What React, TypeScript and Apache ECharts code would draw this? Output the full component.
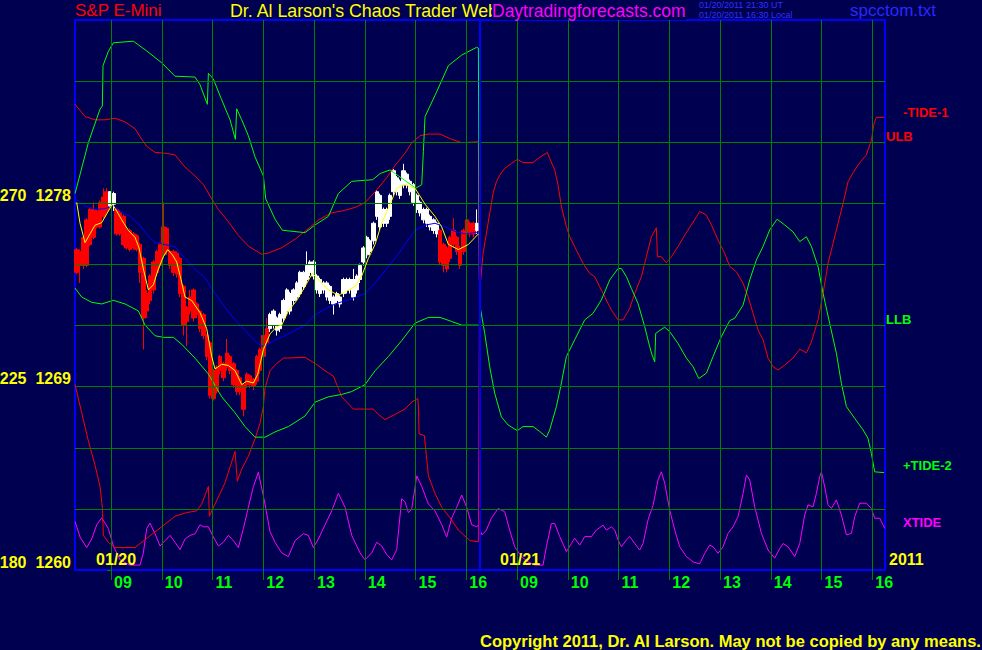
import React, { useEffect, useRef } from 'react';
import * as echarts from 'echarts';

type Pt = [number, number];

// ---- scales ----
const TIDE_MIN = 180;
const TIDE_MAX = 315;
const TIDE_STEP = 15;
const TIDE_LABELED = [180, 225, 270];
const PRICE_MIN = 1260;
const PRICE_MAX = 1287;

// x = session hours counted from 09:00 on 01/20 (01/21 09:00 sits at 8)
const X_MIN = -0.71;
const X_MAX = 15.25;
const DAY_BREAK = 7.27;
const HOUR_TICKS = [0, 1, 2, 3, 4, 5, 6, 7, 8, 9, 10, 11, 12, 13, 14, 15];
const HOUR_LABELS = ['09', '10', '11', '12', '13', '14', '15', '16', '09', '10', '11', '12', '13', '14', '15', '16'];

// ---- tide / band lines (left 180..315 scale) ----
const tide2: Pt[] = [
  [-0.709, 272.4], [-0.447, 284.9], [-0.217, 293.1], [-0.171, 293.9], [-0.158, 303.8], [-0.053, 307.3],
  [0.046, 309.4], [0.44, 309.8], [0.703, 307.4], [0.998, 304.5], [1.261, 301.2], [1.655, 301.0],
  [1.754, 299.1], [1.898, 294.3], [1.918, 301.9], [2.016, 300.5], [2.181, 295.4], [2.345, 290.5],
  [2.45, 285.7], [2.476, 293.2], [2.575, 290.5], [2.706, 286.6], [2.837, 281.4], [3.002, 276.7],
  [3.048, 271.1], [3.232, 266.1], [3.376, 263.4], [3.823, 262.8], [4.02, 264.7], [4.282, 266.8],
  [4.479, 272.4], [4.742, 275.4], [5.156, 275.8], [5.3, 277.3], [5.498, 278.2], [5.793, 275.6],
  [6.003, 273.7], [6.122, 274.6], [6.154, 282.7], [6.187, 291.3], [6.384, 296.5], [6.647, 303.8],
  [6.91, 306.4], [7.205, 308.3], [7.238, 308.1], [7.25, 276.5], [7.262, 245.0],
  [7.284, 243.8], [7.363, 238.1], [7.461, 229.9], [7.56, 223.4], [7.691, 217.6], [7.823, 215.6],
  [8.006, 214.2], [8.118, 215.2], [8.315, 215.2], [8.447, 214.0], [8.578, 212.6], [8.644, 214.4],
  [8.775, 220.1], [8.86, 225.0], [8.972, 232.4], [9.136, 236.5], [9.333, 241.4], [9.497, 243.0],
  [9.662, 246.3], [9.826, 251.2], [9.99, 254.0], [10.056, 254.0], [10.155, 252.0], [10.253, 249.1],
  [10.384, 245.4], [10.516, 239.7], [10.614, 234.8], [10.66, 232.8], [10.713, 231.1], [10.732, 238.1],
  [10.778, 238.5], [10.91, 239.6], [11.008, 238.5], [11.172, 235.6], [11.337, 232.0], [11.468, 229.9],
  [11.58, 227.0], [11.731, 228.3], [11.862, 232.4], [12.026, 237.3], [12.19, 241.2], [12.289, 241.8],
  [12.453, 245.0], [12.585, 251.2], [12.716, 256.1], [12.847, 259.4], [12.979, 263.5], [13.123, 266.1],
  [13.274, 264.7], [13.438, 263.0], [13.57, 260.6], [13.701, 261.8], [13.8, 259.4], [13.931, 254.5],
  [14.03, 247.9], [14.161, 240.5], [14.292, 233.2], [14.391, 225.8], [14.49, 220.1], [14.654, 217.2],
  [14.818, 214.4], [14.916, 212.3], [14.982, 208.6], [15.047, 204.1], [15.231, 203.9],
];

const tide1: Pt[] = [
  [-0.709, 225.5], [-0.578, 218.6], [-0.447, 211.7], [-0.315, 205.7], [-0.217, 200.5], [-0.171, 195.4],
  [-0.151, 188.5], [-0.053, 186.8], [0.079, 185.5], [0.473, 185.5], [0.736, 188.1], [0.998, 190.6],
  [1.261, 193.2], [1.491, 194.1], [1.688, 194.5], [1.787, 196.2], [1.918, 200.5], [1.938, 193.2],
  [2.049, 196.2], [2.246, 201.4], [2.443, 209.1], [2.489, 201.8], [2.575, 204.8], [2.706, 207.9],
  [2.837, 212.2], [2.936, 216.0], [3.002, 220.3], [3.034, 224.6], [3.133, 228.9], [3.264, 230.7],
  [3.396, 232.0], [3.823, 232.2], [4.02, 230.7], [4.217, 228.9], [4.381, 227.6], [4.479, 224.6],
  [4.545, 222.5], [4.775, 219.5], [5.169, 219.5], [5.268, 218.2], [5.399, 216.9], [5.596, 218.2],
  [5.793, 219.5], [5.924, 221.2], [6.043, 222.1], [6.056, 220.3], [6.069, 213.4], [6.174, 213.0],
  [6.253, 203.1], [6.384, 198.8], [6.516, 195.4], [6.68, 192.8], [6.844, 189.8], [7.074, 187.2],
  [7.238, 186.9], [7.262, 251.2],
  [7.284, 251.2], [7.33, 257.7], [7.396, 262.6], [7.461, 267.5], [7.527, 272.4], [7.593, 275.3],
  [7.658, 276.9], [7.757, 278.6], [7.888, 279.8], [8.006, 280.8], [8.118, 280.0], [8.315, 280.0],
  [8.414, 281.0], [8.598, 282.5], [8.644, 281.0], [8.742, 278.2], [8.808, 274.5], [8.874, 269.2],
  [8.972, 264.3], [9.038, 261.8], [9.169, 258.5], [9.3, 255.3], [9.432, 252.8], [9.53, 252.0],
  [9.629, 249.5], [9.727, 247.1], [9.859, 243.8], [9.99, 241.4], [10.089, 241.4], [10.22, 244.2],
  [10.319, 247.9], [10.45, 252.0], [10.548, 256.9], [10.647, 261.8], [10.745, 264.0], [10.765, 256.9],
  [10.844, 256.9], [10.942, 255.4], [11.041, 256.9], [11.172, 259.4], [11.304, 262.2], [11.435, 264.7],
  [11.534, 266.7], [11.599, 268.0], [11.731, 267.1], [11.829, 264.7], [11.961, 261.0], [12.092, 257.7],
  [12.19, 254.5], [12.322, 253.2], [12.453, 250.4], [12.552, 247.1], [12.65, 243.0], [12.749, 238.9],
  [12.847, 236.5], [12.946, 232.0], [13.044, 229.9], [13.143, 229.1], [13.274, 230.3], [13.438, 232.0],
  [13.57, 234.2], [13.701, 233.3], [13.8, 236.0], [13.931, 241.4], [14.03, 247.9], [14.128, 255.3],
  [14.227, 260.2], [14.325, 265.1], [14.424, 270.0], [14.522, 275.3], [14.621, 277.5], [14.719, 279.4],
  [14.883, 281.9], [14.982, 285.5], [15.034, 289.6], [15.08, 291.1], [15.231, 291.1],
];

const ulb: Pt[] = [
  [-0.709, 294.3], [-0.512, 291.3], [-0.315, 290.5], [-0.118, 290.5], [0.079, 290.9], [0.276, 290.0],
  [0.473, 288.3], [0.604, 285.7], [0.703, 284.0], [0.867, 282.5], [1.064, 282.3], [1.261, 281.9],
  [1.458, 278.9], [1.655, 276.7], [1.819, 274.6], [1.984, 271.1], [2.115, 268.5], [2.312, 265.5],
  [2.509, 262.1], [2.706, 259.5], [2.969, 257.5], [3.1, 257.8], [3.363, 259.1], [3.626, 261.2],
  [3.888, 263.8], [4.085, 265.9], [4.348, 267.7], [4.545, 268.1], [4.808, 269.0], [5.005, 270.2],
  [5.202, 272.8], [5.432, 276.3], [5.596, 279.3], [5.793, 282.3], [5.924, 284.9], [6.089, 286.6],
  [6.253, 287.0], [6.483, 287.0], [6.713, 285.7], [6.91, 284.9], [7.238, 285.1], [7.255, 251.2],
];

const llb: Pt[] = [
  [-0.709, 249.2], [-0.578, 247.0], [-0.381, 245.7], [-0.184, 245.3], [0.046, 246.2], [0.276, 245.3],
  [0.539, 243.6], [0.67, 240.1], [0.867, 237.5], [1.031, 237.1], [1.228, 237.1], [1.392, 235.4],
  [1.655, 232.0], [1.918, 228.1], [2.181, 222.5], [2.443, 218.6], [2.64, 215.2], [2.837, 212.6],
  [3.034, 212.6], [3.232, 213.9], [3.494, 215.2], [3.823, 217.8], [4.02, 221.2], [4.282, 222.5],
  [4.545, 223.1], [4.742, 223.8], [5.005, 225.5], [5.202, 228.9], [5.465, 232.4], [5.727, 236.3],
  [5.99, 240.6], [6.253, 242.0], [6.483, 242.0], [6.713, 241.0], [6.91, 240.1], [7.238, 240.1],
];

const xtide: Pt[] = [
  [-0.709, 191.9], [-0.611, 188.1], [-0.479, 185.5], [-0.381, 187.6], [-0.282, 191.1], [-0.184, 192.8],
  [-0.053, 190.2], [0.046, 185.9], [0.177, 182.5], [0.374, 181.2], [0.571, 181.2], [0.637, 184.2],
  [0.703, 190.2], [0.768, 191.5], [0.867, 188.9], [0.966, 185.9], [1.064, 187.2], [1.163, 188.5],
  [1.261, 186.8], [1.36, 185.0], [1.458, 187.6], [1.557, 188.5], [1.655, 188.9], [1.754, 191.1],
  [1.819, 190.6], [1.918, 190.6], [2.016, 188.1], [2.115, 185.9], [2.213, 186.8], [2.312, 188.5],
  [2.41, 187.2], [2.509, 185.5], [2.608, 190.2], [2.706, 195.4], [2.805, 200.5], [2.903, 204.0],
  [3.034, 196.2], [3.133, 189.4], [3.232, 186.8], [3.363, 184.2], [3.494, 183.3], [3.626, 187.2],
  [3.79, 188.9], [3.888, 188.5], [3.987, 185.5], [4.085, 187.6], [4.217, 191.1], [4.348, 194.5],
  [4.479, 198.8], [4.611, 195.4], [4.742, 188.5], [4.906, 184.2], [5.005, 182.5], [5.136, 184.2],
  [5.235, 186.8], [5.333, 185.9], [5.432, 183.8], [5.53, 182.5], [5.629, 185.0], [5.727, 197.5],
  [5.793, 196.7], [5.859, 194.1], [5.924, 194.9], [6.023, 203.1], [6.122, 200.5], [6.253, 196.2],
  [6.384, 194.5], [6.516, 191.1], [6.614, 188.1], [6.713, 192.8], [6.811, 195.4], [6.91, 198.4],
  [7.008, 195.4], [7.107, 191.1], [7.205, 190.6],
  [7.232, 191.0], [7.31, 188.6], [7.396, 189.8], [7.494, 192.7], [7.626, 195.1], [7.757, 194.3],
  [7.855, 189.8], [7.954, 185.7], [8.085, 183.3], [8.217, 182.0], [8.348, 181.2], [8.512, 181.2],
  [8.578, 185.7], [8.676, 191.4], [8.742, 191.4], [8.841, 188.2], [8.972, 184.5], [9.071, 186.5],
  [9.136, 187.8], [9.235, 186.1], [9.333, 188.2], [9.465, 188.2], [9.563, 189.8], [9.695, 191.0],
  [9.76, 189.8], [9.859, 190.6], [9.925, 189.8], [9.99, 187.4], [10.056, 185.7], [10.155, 187.4],
  [10.22, 188.2], [10.319, 186.5], [10.417, 184.9], [10.483, 186.5], [10.581, 192.3], [10.68, 195.9],
  [10.778, 202.1], [10.844, 204.1], [10.91, 201.3], [11.008, 194.7], [11.107, 189.8], [11.205, 185.7],
  [11.337, 183.3], [11.468, 182.0], [11.599, 181.5], [11.698, 184.1], [11.796, 186.1], [11.862, 185.7],
  [11.961, 184.1], [12.059, 185.7], [12.158, 189.0], [12.256, 190.6], [12.355, 193.1], [12.453, 198.8],
  [12.519, 203.3], [12.585, 202.1], [12.683, 195.5], [12.815, 189.0], [12.946, 184.9], [13.077, 182.9],
  [13.176, 185.3], [13.242, 186.5], [13.34, 185.7], [13.471, 183.3], [13.57, 186.5], [13.668, 193.5],
  [13.734, 196.0], [13.832, 195.5], [13.898, 198.8], [13.964, 202.9], [13.997, 204.1], [14.062, 200.4],
  [14.128, 196.0], [14.194, 195.1], [14.292, 197.2], [14.391, 193.5], [14.49, 188.6], [14.588, 189.0],
  [14.654, 193.1], [14.752, 196.4], [14.883, 196.4], [14.982, 195.1], [15.047, 192.7], [15.146, 192.7],
  [15.245, 190.2],
];

// ---- price lines (S&P E-Mini scale) ----
const slowAvg: Pt[] = [
  [-0.709, 1278.22], [-0.512, 1277.88], [-0.315, 1277.7], [-0.118, 1277.74], [0.046, 1277.88], [0.177, 1277.62],
  [0.374, 1277.36], [0.571, 1276.93], [0.703, 1276.47], [0.867, 1276.07], [1.064, 1275.98], [1.261, 1275.85],
  [1.458, 1275.3], [1.655, 1274.78], [1.852, 1274.35], [2.049, 1273.57], [2.246, 1272.89], [2.443, 1272.28],
  [2.64, 1271.77], [2.837, 1271.25], [2.969, 1270.99], [3.1, 1271.08], [3.232, 1271.3], [3.429, 1271.51],
  [3.626, 1271.77], [3.823, 1272.02], [4.02, 1272.54], [4.217, 1272.8], [4.414, 1273.06], [4.742, 1273.32],
  [5.005, 1273.57], [5.202, 1274.09], [5.399, 1274.69], [5.596, 1275.3], [5.793, 1275.98], [5.99, 1276.67],
  [6.187, 1276.93], [6.384, 1277.02], [6.581, 1276.84], [6.778, 1276.62], [6.975, 1276.5], [7.238, 1276.59],
];

const fastAvg: Pt[] = [
  [-0.677, 1278.05], [-0.611, 1277.02], [-0.512, 1276.07], [-0.414, 1276.5], [-0.315, 1276.93], [-0.184, 1277.05],
  [-0.053, 1277.62], [0.026, 1277.96], [0.112, 1277.62], [0.21, 1277.19], [0.342, 1276.67], [0.473, 1276.33],
  [0.552, 1275.81], [0.637, 1274.78], [0.736, 1273.75], [0.834, 1274.0], [0.933, 1274.78], [1.031, 1275.38],
  [1.117, 1275.73], [1.209, 1275.47], [1.294, 1275.12], [1.379, 1274.26], [1.458, 1273.4], [1.589, 1273.23],
  [1.754, 1272.63], [1.885, 1271.85], [1.984, 1270.48], [2.049, 1269.87], [2.181, 1270.1], [2.312, 1270.04],
  [2.443, 1269.79], [2.575, 1269.1], [2.673, 1269.27], [2.805, 1269.18], [2.89, 1269.61], [3.002, 1270.82],
  [3.133, 1271.59], [3.264, 1271.94], [3.363, 1272.02], [3.494, 1272.71], [3.658, 1273.23], [3.823, 1273.92],
  [3.967, 1274.57], [4.085, 1274.26], [4.282, 1273.75], [4.479, 1273.49], [4.624, 1273.66], [4.808, 1273.92],
  [4.939, 1274.43], [5.071, 1275.3], [5.202, 1275.98], [5.333, 1277.02], [5.498, 1277.96], [5.629, 1278.74],
  [5.793, 1278.91], [5.99, 1278.74], [6.187, 1277.96], [6.384, 1277.36], [6.516, 1276.84], [6.647, 1275.98],
  [6.844, 1275.73], [7.041, 1275.98], [7.238, 1276.5],
];

// ---- price bars (about 4-minute bars, 01/20) ----
const BAR_FIRST = -0.676; // 08:19
const BAR_STEP = 0.0657; // hours
const barOpen = [
  1275.73, 1275.64, 1276.33, 1277.19, 1277.7, 1277.7, 1277.62, 1278.05, 1278.31, 1278.57,
  1277.88, 1277.96, 1277.7, 1277.53, 1277.36, 1276.67, 1276.67, 1276.5, 1276.41, 1275.98,
  1275.3, 1273.57, 1274.43, 1275.12, 1275.64, 1275.98, 1276.84, 1276.76, 1275.64, 1275.64,
  1275.55, 1275.3, 1273.92, 1272.89, 1273.4, 1273.75, 1273.06, 1272.71, 1272.54, 1271.51,
  1271.16, 1269.79, 1269.96, 1270.48, 1270.13, 1270.65, 1270.48, 1270.13, 1269.79, 1269.44,
  1269.1, 1269.61, 1269.53, 1269.36, 1270.48, 1270.82, 1271.51, 1271.85, 1271.85, 1272.02,
  1271.77, 1271.85, 1272.37, 1272.71, 1272.71, 1273.23, 1273.4, 1273.57, 1273.92, 1274.26,
  1274.61, 1274.43, 1273.75, 1273.57, 1273.75, 1273.4, 1273.23, 1273.06, 1273.23, 1273.06,
  1273.57, 1273.75, 1273.75, 1273.4, 1273.75, 1274.26, 1275.12, 1275.47, 1275.64, 1276.16,
  1277.36, 1276.84, 1277.02, 1277.02, 1277.36, 1278.57, 1278.57, 1278.39, 1278.91, 1278.91,
  1278.57, 1278.05, 1277.7, 1277.53, 1277.19, 1277.02, 1276.84, 1276.67, 1276.5, 1276.67,
  1275.98, 1275.81, 1276.33, 1276.67, 1276.33, 1275.81, 1276.67, 1277.19, 1277.02, 1277.02,
  1276.67,
];
const barClose = [
  1274.61, 1274.95, 1274.95, 1274.95, 1275.98, 1276.33, 1276.84, 1276.84, 1277.36, 1277.62,
  1278.57, 1278.48, 1276.5, 1276.5, 1275.98, 1275.81, 1275.73, 1275.81, 1275.73, 1274.61,
  1272.37, 1272.71, 1273.23, 1273.75, 1274.61, 1274.95, 1275.47, 1275.64, 1274.95, 1274.61,
  1274.52, 1273.57, 1272.02, 1272.2, 1272.71, 1272.37, 1272.54, 1271.85, 1271.51, 1270.48,
  1268.58, 1268.41, 1268.75, 1269.79, 1269.44, 1269.96, 1269.79, 1269.1, 1268.75, 1268.75,
  1267.89, 1269.1, 1269.1, 1269.01, 1269.27, 1269.79, 1270.48, 1271.16, 1272.54, 1272.71,
  1272.37, 1272.54, 1273.23, 1273.75, 1273.57, 1273.75, 1274.09, 1274.61, 1274.61, 1274.95,
  1275.12, 1275.12, 1274.43, 1274.26, 1274.09, 1274.09, 1273.92, 1273.4, 1273.57, 1273.4,
  1274.26, 1274.26, 1274.26, 1274.26, 1274.43, 1274.95, 1275.81, 1276.33, 1276.16, 1277.02,
  1278.57, 1278.39, 1277.7, 1277.7, 1278.39, 1279.6, 1279.25, 1279.08, 1279.6, 1279.43,
  1279.08, 1278.91, 1278.39, 1278.05, 1277.7, 1277.7, 1277.36, 1277.19, 1277.02, 1275.12,
  1274.95, 1274.78, 1275.3, 1275.98, 1275.64, 1274.95, 1275.64, 1276.5, 1276.5, 1276.5,
  1277.02,
];
const barLow = [
  1274.52, 1274.09, 1274.78, 1274.87, 1275.9, 1276.24, 1276.76, 1276.76, 1277.27, 1277.53,
  1277.79, 1277.62, 1276.41, 1276.41, 1275.9, 1275.73, 1275.64, 1275.73, 1275.64, 1274.09,
  1270.82, 1272.37, 1273.06, 1273.57, 1274.43, 1274.78, 1275.3, 1275.47, 1274.78, 1274.43,
  1274.35, 1273.4, 1271.51, 1270.99, 1272.54, 1272.2, 1272.37, 1271.68, 1271.34, 1270.3,
  1268.41, 1268.32, 1268.67, 1269.61, 1269.27, 1269.79, 1269.61, 1268.93, 1268.58, 1268.58,
  1267.55, 1268.93, 1268.93, 1268.84, 1269.1, 1269.61, 1270.3, 1270.99, 1271.68, 1271.85,
  1271.51, 1271.68, 1272.2, 1272.54, 1272.54, 1273.06, 1273.23, 1273.4, 1273.75, 1274.09,
  1274.43, 1274.26, 1273.57, 1273.4, 1273.57, 1273.23, 1273.06, 1272.54, 1273.06, 1272.89,
  1273.4, 1273.57, 1273.57, 1273.23, 1273.57, 1274.09, 1274.95, 1275.3, 1275.47, 1275.98,
  1277.19, 1276.67, 1276.84, 1276.84, 1277.19, 1278.39, 1278.39, 1278.22, 1278.74, 1278.74,
  1278.39, 1277.88, 1277.53, 1277.36, 1277.02, 1276.84, 1276.67, 1276.5, 1276.33, 1274.95,
  1274.61, 1274.61, 1275.12, 1275.81, 1275.47, 1274.78, 1275.47, 1276.33, 1276.33, 1276.33,
  1276.5,
];
const barHigh = [
  1275.81, 1275.73, 1276.41, 1277.27, 1277.79, 1278.05, 1277.7, 1278.14, 1278.74, 1278.74,
  1278.6, 1278.57, 1277.79, 1277.62, 1277.45, 1276.76, 1276.76, 1276.59, 1276.5, 1276.07,
  1275.38, 1273.75, 1274.52, 1275.21, 1275.73, 1276.07, 1278.05, 1276.84, 1275.73, 1275.73,
  1275.64, 1275.38, 1274.0, 1272.97, 1273.75, 1273.83, 1273.14, 1272.8, 1272.63, 1271.59,
  1271.25, 1269.87, 1270.05, 1270.56, 1270.22, 1271.34, 1270.56, 1270.22, 1269.87, 1269.53,
  1269.18, 1269.7, 1269.61, 1269.44, 1270.56, 1270.91, 1271.59, 1272.37, 1272.63, 1272.8,
  1272.45, 1272.63, 1273.32, 1273.83, 1273.66, 1273.83, 1274.18, 1274.69, 1274.69, 1275.64,
  1275.21, 1275.21, 1274.52, 1274.35, 1274.18, 1274.18, 1274.0, 1273.49, 1273.66, 1273.49,
  1274.35, 1274.35, 1274.35, 1274.78, 1274.52, 1275.04, 1275.9, 1276.41, 1276.24, 1277.1,
  1278.65, 1278.48, 1277.79, 1277.79, 1278.48, 1279.68, 1279.34, 1279.17, 1279.94, 1279.51,
  1279.17, 1279.0, 1278.48, 1278.14, 1277.79, 1277.79, 1277.45, 1277.27, 1277.1, 1276.76,
  1276.07, 1275.9, 1276.41, 1277.27, 1276.41, 1275.9, 1276.76, 1277.96, 1277.1, 1277.1,
  1277.7,
];
// trend colouring of the bars: runs of [count, 'D' = falling (red) | 'U' = rising (white)]
const barTrendRuns: [number, string][] = [[10, 'D'], [2, 'U'], [46, 'D'], [51, 'U'], [11, 'D'], [1, 'U']];

// ---- colours / fonts ----
const NAVY = '#000050';
const GRID_GREEN = '#008000';
const BORDER_BLUE = '#0000ff';
const ARIAL = '"Liberation Sans", Arial, sans-serif';

function buildOption() {
  const trend: string[] = [];
  barTrendRuns.forEach(([n, k]) => { for (let i = 0; i < n; i++) trend.push(k); });
  const bars = barOpen.map((o, i) => {
    const col = trend[i] === 'U' ? '#ffffff' : '#ff0000';
    return {
      value: [BAR_FIRST + i * BAR_STEP, o, barClose[i], barLow[i], barHigh[i]],
      itemStyle: { color: col, color0: col, borderColor: col, borderColor0: col, borderWidth: 1 },
    };
  });

  const line = (name: string, data: Pt[], color: string, yAxisIndex = 0, z = 3) => ({
    name, type: 'line', data, yAxisIndex, symbol: 'none', showSymbol: false, silent: true,
    lineStyle: { color, width: 1 }, itemStyle: { color }, z, clip: true,
  });

  const priceFromTide = (v: number) => PRICE_MIN + (v - TIDE_MIN) * (PRICE_MAX - PRICE_MIN) / (TIDE_MAX - TIDE_MIN);
  const tideGrid: number[] = [];
  for (let v = TIDE_MIN + TIDE_STEP; v < TIDE_MAX; v += TIDE_STEP) tideGrid.push(v);

  const txt = (text: string, left: number, top: number, fill: string, fontSize: number, fontWeight = 'normal', extra: any = {}) => ({
    type: 'text', left, top, z: 100, silent: true,
    style: { text, fill, fontSize, fontFamily: ARIAL, fontWeight, ...extra },
  });

  return {
    animation: false,
    backgroundColor: NAVY,
    grid: {
      left: 75, right: 97, top: 20, bottom: 80, containLabel: false, outerBoundsMode: 'none',
      show: true, backgroundColor: NAVY, borderColor: BORDER_BLUE, borderWidth: 2,
    },
    xAxis: {
      type: 'value', min: X_MIN, max: X_MAX,
      axisLine: { show: false },
      axisTick: { show: true, customValues: HOUR_TICKS, length: 10, lineStyle: { color: GRID_GREEN } },
      axisLabel: {
        customValues: HOUR_TICKS, color: '#00ff00', fontSize: 16, fontWeight: 'bold', fontFamily: ARIAL,
        align: 'left', margin: 4, padding: [0, 0, 0, 3],
        formatter: (v: number) => HOUR_LABELS[HOUR_TICKS.indexOf(Math.round(v))] ?? '',
      },
      splitLine: { show: false },
    },
    yAxis: [
      {
        type: 'value', min: TIDE_MIN, max: TIDE_MAX, interval: TIDE_STEP,
        axisLine: { show: false },
        axisTick: { show: true, customValues: TIDE_LABELED, length: 4, lineStyle: { color: GRID_GREEN } },
        axisLabel: {
          customValues: TIDE_LABELED, color: '#ffff00', fontSize: 16, fontWeight: 'bold', fontFamily: ARIAL,
          verticalAlign: 'bottom', margin: 4,
          formatter: (v: number) => `${v}  ${Math.round(priceFromTide(v))}`,
        },
        splitLine: { show: false },
      },
      { type: 'value', min: PRICE_MIN, max: PRICE_MAX, show: false, splitLine: { show: false } },
    ],
    series: [
      {
        name: 'grid', type: 'line', data: [], z: 1, silent: true,
        markLine: {
          silent: true, symbol: ['none', 'none'], label: { show: false }, animation: false,
          lineStyle: { color: GRID_GREEN, width: 1, type: 'solid' },
          data: [
            ...HOUR_TICKS.map((v) => ({ xAxis: v })),
            ...tideGrid.map((v) => ({ yAxis: v })),
          ],
        },
      },
      {
        name: 'dayBreak', type: 'line', data: [], z: 6, silent: true,
        markLine: {
          silent: true, symbol: ['none', 'none'], label: { show: false }, animation: false,
          lineStyle: { color: BORDER_BLUE, width: 2, type: 'solid' },
          data: [{ xAxis: DAY_BREAK }],
        },
      },
      {
        name: 'S&P E-Mini', type: 'candlestick', yAxisIndex: 1, data: bars, barWidth: 4, z: 2, silent: true,
        encode: { x: 0, y: [1, 2, 3, 4] },
      },
      line('XTIDE', xtide, '#ff00ff'),
      line('-TIDE-1', tide1, '#ff0000'),
      line('ULB', ulb, '#ff0000'),
      line('+TIDE-2', tide2, '#00ff00'),
      line('LLB', llb, '#00ff00'),
      line('slow', slowAvg, '#0000ff', 1, 4),
      line('fast', fastAvg, '#ffff00', 1, 5),
    ],
    graphic: [
      txt('S&P E-Mini', 75, 2, '#ff0000', 17),
      txt("Dr. Al Larson's Chaos Trader Web", 230, 2, '#ffff00', 17.8),
      txt('Daytradingforecasts.com', 492, 2, '#ff00ff', 17.5, 'normal', { backgroundColor: NAVY }),
      txt('01/20/2011 21:30 UT', 699, 0, '#3030ff', 9, 'normal', { lineHeight: 9 }),
      txt('01/20/2011 16:30 Local', 699, 10, '#3030ff', 9, 'normal', { lineHeight: 9 }),
      txt('spcctom.txt', 850, 2, '#2828ff', 17),
      txt('-TIDE-1', 903, 106, '#ff0000', 13, 'bold'),
      txt('ULB', 886, 130, '#ff0000', 13, 'bold'),
      txt('LLB', 886, 313, '#00ff00', 13, 'bold'),
      txt('+TIDE-2', 903, 459, '#00ff00', 13, 'bold'),
      txt('XTIDE', 903, 516, '#ff00ff', 13, 'bold'),
      txt('01/20', 96, 551, '#ffff00', 16, 'bold'),
      txt('01/21', 500, 551, '#ffff00', 16, 'bold'),
      txt('2011', 889, 551, '#ffff00', 16, 'bold'),
      txt('Copyright 2011, Dr. Al Larson. May not be copied by any means.', 480, 632, '#ffff00', 16.5, 'bold'),
    ],
  };
}

export default function App() {
  const ref = useRef<HTMLDivElement>(null);
  useEffect(() => {
    if (!ref.current) return;
    const chart = echarts.init(ref.current, undefined, { renderer: 'svg' });
    chart.setOption(buildOption() as any);
    return () => chart.dispose();
  }, []);
  return (
    <div
      ref={ref}
      style={{ position: 'fixed', left: 0, top: 0, width: 982, height: 650, background: NAVY }}
    />
  );
}
